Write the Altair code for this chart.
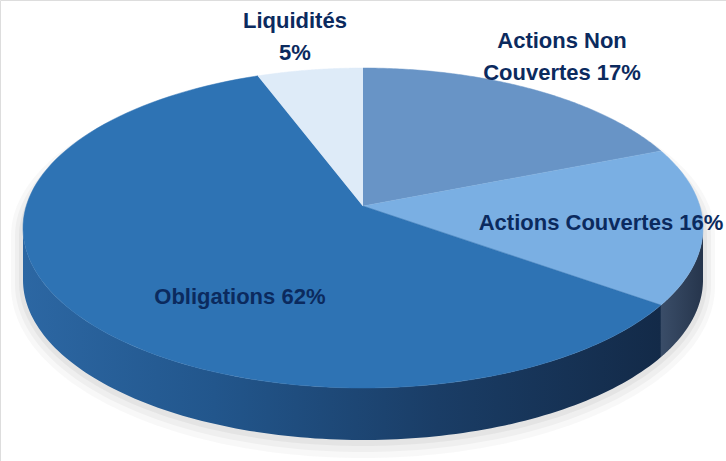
import altair as alt
import pandas as pd

# ---- data ----
categories = ["Actions Non Couvertes", "Actions Couvertes", "Obligations", "Liquidités"]
values = [17, 16, 62, 5]
label_texts = ["Actions Non\nCouvertes 17%", "Actions Couvertes 16%", "Obligations 62%", "Liquidités\n5%"]

# ---- styles / layout ----
top_colors = ["#6894C6", "#7AAFE3", "#2E73B4", "#DEEBF8"]
wall_stops = [
    [("#3d5f87", 0), ("#3d5f87", 1)],
    [("#3a4d68", 0), ("#26354c", 1)],
    [("#2C67A3", 0), ("#22568C", 0.3), ("#1A3D66", 0.65), ("#132A48", 1)],
    [("#aabbd0", 0), ("#aabbd0", 1)],
]
label_kx = [1.15, 0.7, 0.47, 1.28]
label_ky = [1.36, 0.0, 0.68, 1.31]
label_dy = [0, -5, 0, 0]
W, H = 726, 461
CX, CY, RX, RY = 363, 228, 340, 160
APEX_DY = -22
DEPTH = 52
N = 120
TEXT_COLOR = "#0B2A5E"

df = pd.DataFrame({
    "category": categories,
    "value": values,
    "label": label_texts,
    "order": list(range(len(categories))),
    "kx": label_kx,
    "ky": label_ky,
    "dy": label_dy,
})

xs = alt.Scale(domain=[0, W], nice=False, zero=False)
ys = alt.Scale(domain=[0, H], nice=False, zero=False, reverse=True)
X = lambda f: alt.X(f, type="quantitative", scale=xs, axis=None)
Y = lambda f: alt.Y(f, type="quantitative", scale=ys, axis=None)

base = (
    alt.Chart(df)
    .transform_joinaggregate(total="sum(value)")
    .transform_window(cum="sum(value)", sort=[alt.SortField("order")], frame=[None, 0])
    .transform_calculate(
        a1="2*PI*datum.cum/datum.total",
        a0="2*PI*(datum.cum-datum.value)/datum.total",
    )
)

layers = []

# ---- soft shadow (mostly below / around the disk) ----
shadow_df = pd.DataFrame({"s": [0]})
for grow, op in [(12, 0.05), (8, 0.07), (4, 0.09)]:
    sh = (
        alt.Chart(shadow_df)
        .transform_calculate(i=f"sequence(0,{N + 1},1)")
        .transform_flatten(["i"])
        .transform_calculate(th=f"PI/2 + PI*datum.i/{N}")
        .transform_calculate(
            px=f"{CX}+{RX + grow}*sin(datum.th)",
            py=f"{CY + 8}+{RY + grow - 8}*cos(datum.th)",
            py2=f"{CY}-{RY + grow}*cos(datum.th)+{DEPTH + grow / 2}",
        )
        .mark_area(color="#7f7f7f", opacity=op)
        .encode(x=X("px"), y=Y("py"), y2="py2:Q")
    )
    layers.append(sh)

# ---- side walls ----
for idx, cat in enumerate(categories):
    wall = (
        base.transform_filter(alt.datum.category == cat)
        .transform_calculate(lo="max(datum.a0, PI/2)", hi="min(datum.a1, 3*PI/2)")
        .transform_filter("datum.hi > datum.lo")
        .transform_calculate(i=f"sequence(0,{N + 1},1)")
        .transform_flatten(["i"])
        .transform_calculate(th=f"datum.lo + (datum.hi-datum.lo)*datum.i/{N}")
        .transform_calculate(
            px=f"{CX}+{RX}*sin(datum.th)",
            py=f"{CY}-{RY}*cos(datum.th)",
            py2=f"{CY}-{RY}*cos(datum.th)+{DEPTH}",
        )
        .mark_area(
            color=alt.Gradient(
                gradient="linear",
                stops=[alt.GradientStop(color=c, offset=o) for c, o in wall_stops[idx]],
                x1=0, x2=1, y1=0, y2=0,
            ),
            interpolate="linear",
        )
        .encode(x=X("px"), y=Y("py"), y2="py2:Q")
    )
    layers.append(wall)

# ---- top face slices ----
for idx, cat in enumerate(categories):
    top = (
        base.transform_filter(alt.datum.category == cat)
        .transform_calculate(i=f"sequence(-1,{N + 1},1)")
        .transform_flatten(["i"])
        .transform_calculate(th=f"datum.a0 + (datum.a1-datum.a0)*max(datum.i,0)/{N}")
        .transform_calculate(
            px=f"datum.i < 0 ? {CX} : {CX}+{RX}*sin(datum.th)",
            py=f"datum.i < 0 ? {CY + APEX_DY} : {CY}-{RY}*cos(datum.th)",
        )
        .mark_line(fill=top_colors[idx], stroke=top_colors[idx], strokeWidth=0.5, interpolate="linear")
        .encode(x=X("px"), y=Y("py"), order=alt.Order("i:Q"))
    )
    layers.append(top)

# ---- labels ----
labels = (
    base.transform_calculate(mid="(datum.a0+datum.a1)/2")
    .transform_calculate(
        lx=f"{CX}+{RX}*datum.kx*sin(datum.mid)",
        ly=f"{CY}-{RY}*datum.ky*cos(datum.mid)+datum.dy",
    )
    .mark_text(
        font="Liberation Sans, Arial",
        fontSize=22,
        fontWeight="bold",
        color=TEXT_COLOR,
        lineBreak="\n",
        lineHeight=32,
        align="center",
        baseline="middle",
    )
    .encode(x=X("lx"), y=Y("ly"), text="label:N")
)
layers.append(labels)

chart = (
    alt.layer(*layers)
    .properties(width=W, height=H, autosize=alt.AutoSizeParams(type="none"), padding=0)
    .configure_view(stroke=None)
    .configure(background="white")
)

chart.save("out.html", embed_options={"renderer": "svg", "actions": False})
